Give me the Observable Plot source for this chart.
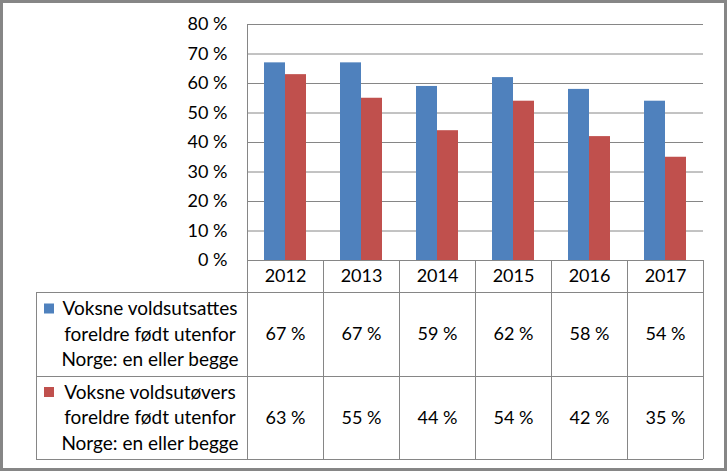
<!DOCTYPE html>
<html><head><meta charset="utf-8">
<script src="https://cdn.jsdelivr.net/npm/d3@7"></script>
<script src="https://cdn.jsdelivr.net/npm/@observablehq/plot@0.6"></script>
<style>
body{margin:0;background:#fff}
#chart{position:relative;width:727px;height:471px;overflow:hidden}
#chart svg{display:block}
#border{position:absolute;left:0;top:0;width:727px;height:471px;box-sizing:border-box;border:3px solid #868686;pointer-events:none}
</style></head><body><div id="chart"><div id="border"></div></div>
<script>
const years = ["2012", "2013", "2014", "2015", "2016", "2017"];
const seriesKeys = ["utsatte", "utovere"];
const legendLines = [
  ["Voksne voldsutsattes", "foreldre født utenfor", "Norge: en eller begge"],
  ["Voksne voldsutøvers", "foreldre født utenfor", "Norge: en eller begge"]
];
const victims = [0.67, 0.67, 0.59, 0.62, 0.58, 0.54];
const perpetrators = [0.63, 0.55, 0.44, 0.54, 0.42, 0.35];
const colors = ["#4F81BD", "#C0504D"];
const yTicks = [0, 0.1, 0.2, 0.3, 0.4, 0.5, 0.6, 0.7, 0.8];

const data = years.flatMap((yr, i) => [
  {year: yr, series: seriesKeys[0], value: victims[i]},
  {year: yr, series: seriesKeys[1], value: perpetrators[i]}
]);

const FONT = "Lato, 'Open Sans', sans-serif";
const GRID = "#868686";
const pct = d => `${Math.round(d * 100)} %`;

// layout of the data table below the plot area
const headerBottom = 292, row1Bottom = 376, row2Bottom = 459;
const tableLeft = 36;

const chart = Plot.plot({
  width: 727, height: 471,
  marginTop: 24, marginBottom: 211, marginLeft: 247, marginRight: 24,
  style: {fontFamily: FONT, fontSize: "18px", color: "#000", background: "transparent"},
  fx: {domain: years, padding: 0, axis: null},
  x: {domain: seriesKeys, paddingInner: 0, paddingOuter: 0.767, axis: null},
  y: {domain: [0, 0.8], ticks: yTicks, tickSize: 0, tickPadding: 20, tickFormat: pct, label: null},
  color: {domain: seriesKeys, range: colors},
  marks: [
    Plot.ruleY(yTicks.filter(d => d > 0), {stroke: GRID, strokeWidth: 1}),
    Plot.barY(data, {fx: "year", x: "series", y: "value", fill: "series"}),
    Plot.text(years, {fx: d => d, text: d => d, frameAnchor: "bottom", dy: 16, lineAnchor: "middle", fill: "#000", fontSize: 18}),
    Plot.text(data.filter(d => d.series === seriesKeys[0]), {fx: "year", text: d => pct(d.value), frameAnchor: "bottom", dy: (headerBottom + row1Bottom) / 2 - 260, lineAnchor: "middle", fill: "#000", fontSize: 18}),
    Plot.text(data.filter(d => d.series === seriesKeys[1]), {fx: "year", text: d => pct(d.value), frameAnchor: "bottom", dy: (row1Bottom + row2Bottom) / 2 - 260, lineAnchor: "middle", fill: "#000", fontSize: 18})
  ]
});

document.getElementById("chart").prepend(chart);

// table grid & legend column, positioned from the library's scales
const svg = d3.select(chart);
const fxS = chart.scale("fx");
const yS = chart.scale("y");
const band = d3.scaleBand(fxS.domain, fxS.range).paddingInner(0).paddingOuter(0);
const fx = v => (fxS.apply ? fxS.apply(v) : band(v));
const bw = fxS.bandwidth != null ? fxS.bandwidth : band.bandwidth();
const yv = v => (yS.apply ? yS.apply(v) : d3.scaleLinear(yS.domain, yS.range)(v));
const plotLeft = fx(years[0]);
const plotRight = fx(years[years.length - 1]) + bw;
const y0 = yv(0), yTop = yv(0.8);

const g = svg.append("g").attr("stroke", GRID).attr("stroke-width", 1).attr("shape-rendering", "crispEdges");
g.append("line").attr("x1", plotLeft).attr("x2", plotRight).attr("y1", y0).attr("y2", y0);
g.append("line").attr("x1", plotLeft).attr("x2", plotLeft).attr("y1", yTop).attr("y2", row2Bottom);
years.forEach(yr => {
  const x = fx(yr) + bw;
  g.append("line").attr("x1", x).attr("x2", x).attr("y1", y0).attr("y2", row2Bottom);
});
[headerBottom, row1Bottom, row2Bottom].forEach(y => {
  g.append("line").attr("x1", tableLeft).attr("x2", plotRight).attr("y1", y).attr("y2", y);
});
g.append("line").attr("x1", tableLeft).attr("x2", tableLeft).attr("y1", headerBottom).attr("y2", row2Bottom);

// legend column
const rowsY = [[headerBottom, row1Bottom], [row1Bottom, row2Bottom]];
const legendCenterX = 150, lineH = 25.5;
const colorS = chart.scale("color");
const lg = svg.append("g").attr("font-family", FONT).attr("font-size", 19).attr("fill", "#000");
legendLines.forEach((lines, r) => {
  const cy = (rowsY[r][0] + rowsY[r][1]) / 2;
  lines.forEach((t, k) => {
    lg.append("text").attr("x", legendCenterX).attr("y", cy + (k - 1) * lineH)
      .attr("dy", "0.35em").attr("text-anchor", "middle").text(t);
  });
  svg.append("rect").attr("x", 44).attr("y", cy - lineH - 5).attr("width", 10).attr("height", 10)
    .attr("fill", colorS.apply ? colorS.apply(seriesKeys[r]) : colors[r]);
});
</script>
</body></html>
